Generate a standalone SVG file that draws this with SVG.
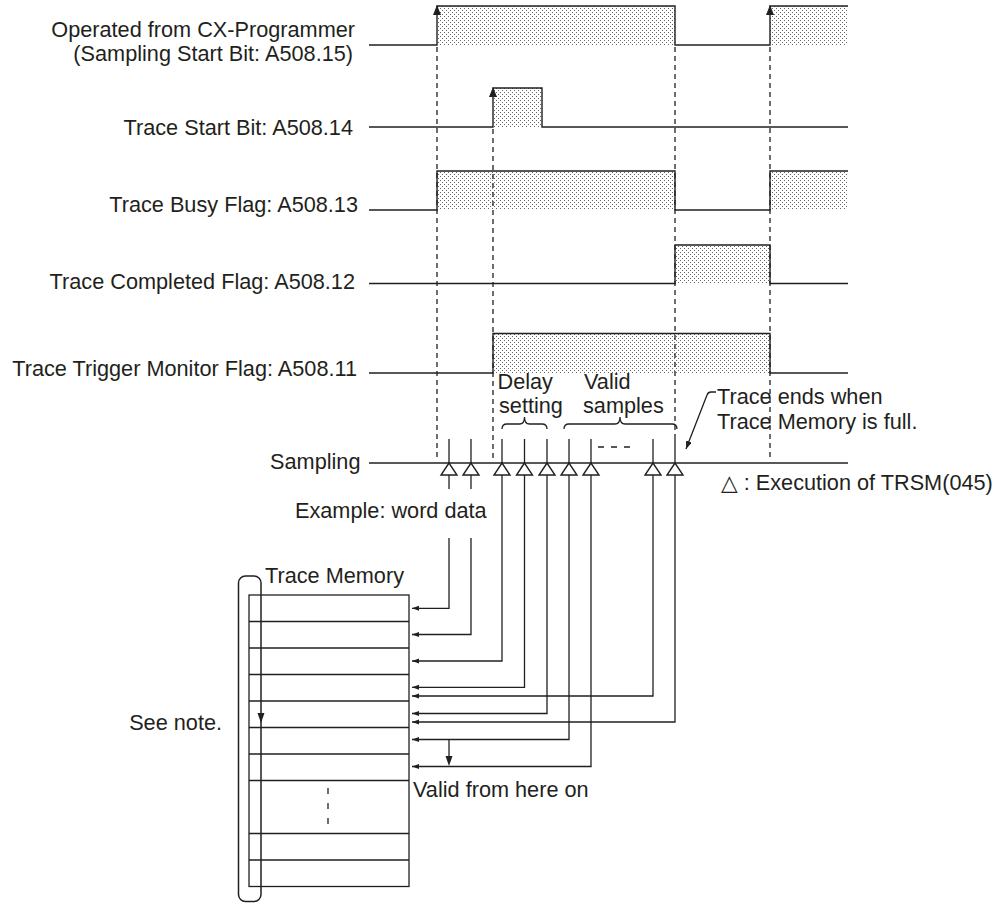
<svg xmlns="http://www.w3.org/2000/svg" width="1003" height="903" viewBox="0 0 1003 903">
<style>
text{font-family:"Liberation Sans",Arial,"DejaVu Sans",sans-serif;font-size:21.7px;fill:#231f20}
.e{text-anchor:end}
.w{fill:none;stroke:#231f20;stroke-width:1.4}
.d{fill:none;stroke:#231f20;stroke-width:1.3;stroke-dasharray:5 4}
.c{fill:none;stroke:#231f20;stroke-width:1.3}
.ca{fill:none;stroke:#231f20;stroke-width:1.3;marker-end:url(#ah)}
.f{fill:url(#dots);stroke:none}
.tri{fill:#fff;stroke:#231f20;stroke-width:1.4}
.hd{fill:#231f20}
</style>
<defs>
<pattern id="dots" width="4" height="4" patternUnits="userSpaceOnUse">
<rect width="4" height="4" fill="#fff"/>
<rect x="0" y="0" width="1" height="1" fill="#666"/>
<rect x="2" y="2" width="1" height="1" fill="#666"/>
</pattern>
<marker id="ah" markerUnits="userSpaceOnUse" markerWidth="8" markerHeight="6" refX="7" refY="2.5" orient="auto">
<path d="M0,0 L7,2.5 L0,5 z" fill="#231f20"/>
</marker>
<marker id="ah2" markerUnits="userSpaceOnUse" markerWidth="10" markerHeight="8" refX="8" refY="3" orient="auto">
<path d="M0,0 L8,3 L0,6 z" fill="#231f20"/>
</marker>
</defs>
<rect width="1003" height="903" fill="#fff"/>

<g id="signal-cx">
<text class="e" x="355" y="37">Operated from CX-Programmer</text>
<text class="e" x="353" y="61.3">(Sampling Start Bit: A508.15)</text>
<rect class="f" x="437" y="6" width="238" height="39"/>
<rect class="f" x="770" y="6" width="78" height="39"/>
<path class="w" d="M369,45 H437 V6 H675 V45 H770 V6 H848"/>
<polygon class="hd" points="437,5 433,15 441,15"/>
<polygon class="hd" points="770,5 766,15 774,15"/>
</g>

<g id="signal-start">
<text class="e" x="353" y="135">Trace Start Bit: A508.14</text>
<rect class="f" x="493" y="88" width="49" height="39"/>
<path class="w" d="M369,127 H493 V88 H542 V127 H848"/>
<polygon class="hd" points="493,87 489,97 497,97"/>
</g>

<g id="signal-busy">
<text class="e" x="358" y="211.5">Trace Busy Flag: A508.13</text>
<rect class="f" x="437" y="171" width="238" height="39"/>
<rect class="f" x="770" y="171" width="78" height="39"/>
<path class="w" d="M369,210 H437 V171 H675 V210 H770 V171 H848"/>
</g>

<g id="signal-completed">
<text class="e" x="355" y="288.5">Trace Completed Flag: A508.12</text>
<rect class="f" x="675" y="245" width="95" height="38.5"/>
<path class="w" d="M369,283.5 H675 V245 H770 V283.5 H848"/>
</g>

<g id="signal-trigger">
<text class="e" x="357" y="375.5">Trace Trigger Monitor Flag: A508.11</text>
<rect class="f" x="493" y="333.5" width="277" height="39.5"/>
<path class="w" d="M369,373 H493 V333.5 H770 V373 H848"/>
</g>

<g id="timing-guides">
<path class="d" d="M437,47 V460 M493,129 V460 M675,47 V439 M770,47 V460"/>
</g>

<g id="sampling">
<text class="e" x="360.5" y="468.5">Sampling</text>
<path class="w" d="M369,463 H848"/>
<path class="c" d="M449,439 V463 M471,439 V463 M502,439 V463 M524.5,439 V463 M547,439 V463 M569,439 V463 M591,439 V463 M653,439 V463 M675,439 V463"/>
<path class="c" d="M598,447 H630" stroke-dasharray="6 7"/>
<polygon class="tri" points="449,463 441,475 457,475"/>
<polygon class="tri" points="471,463 463,475 479,475"/>
<polygon class="tri" points="502,463 494,475 510,475"/>
<polygon class="tri" points="524.5,463 516.5,475 532.5,475"/>
<polygon class="tri" points="547,463 539,475 555,475"/>
<polygon class="tri" points="569,463 561,475 577,475"/>
<polygon class="tri" points="591,463 583,475 599,475"/>
<polygon class="tri" points="653,463 645,475 661,475"/>
<polygon class="tri" points="675,463 667,475 683,475"/>
</g>

<g id="brace-delay">
<path class="c" d="M502,429 Q502,424 507,424 L519.5,424 Q524.5,424 524.5,417 Q524.5,424 529.5,424 L542,424 Q547,424 547,429"/>
<text x="497.5" y="389">Delay</text>
<text x="499" y="413.3">setting</text>
</g>

<g id="brace-valid">
<path class="c" d="M564,429 Q564,424 569,424 L615,424 Q620,424 620,417 Q620,424 625,424 L672,424 Q677,424 677,429"/>
<text x="584" y="389">Valid</text>
<text x="583" y="413.3">samples</text>
</g>

<g id="note-trace-ends">
<text x="717" y="404.3">Trace ends when</text>
<text x="717" y="428.6">Trace Memory is full.</text>
<path class="c" d="M716,392 H711 Q708,392 707,395 L686,449" marker-end="url(#ah2)"/>
</g>

<g id="legend">
<text x="721" y="490">△ : Execution of TRSM(045)</text>
</g>

<g id="example-label">
<text x="295" y="518">Example: word data</text>
</g>

<g id="trace-memory">
<text x="265" y="583">Trace Memory</text>
<rect x="249" y="595" width="160" height="291.5" fill="none" stroke="#231f20" stroke-width="1.3"/>
<path class="c" d="M249,621.5 H409 M249,648 H409 M249,674.5 H409 M249,701 H409 M249,727.5 H409 M249,754 H409 M249,780.5 H409 M249,833.5 H409 M249,860 H409"/>
<path class="c" d="M328,788 V825" stroke-dasharray="6 9"/>
</g>

<g id="wrap-loop">
<rect x="238.5" y="576" width="22.5" height="325.5" rx="7" fill="none" stroke="#231f20" stroke-width="1.5"/>
<polygon class="hd" points="261,723 257.5,713 264.5,713"/>
<text class="e" x="222" y="730">See note.</text>
</g>

<g id="connectors">
<path class="c" d="M449,475 V489 M471,475 V489"/>
<path class="ca" d="M449,538 V608.3 H412"/>
<path class="ca" d="M471,538 V634.5 H412"/>
<path class="ca" d="M502,475 V661 H412"/>
<path class="ca" d="M524.5,475 V687.3 H412"/>
<path class="ca" d="M653,475 V696 H412"/>
<path class="ca" d="M547,475 V713.5 H412"/>
<path class="ca" d="M675,475 V722 H412"/>
<path class="ca" d="M569,475 V739.5 H412"/>
<path class="ca" d="M591,475 V766.5 H412"/>
<path class="c" d="M449,739.5 V758"/>
<polygon class="hd" points="449,766 445.5,756 452.5,756"/>
</g>

<g id="valid-label">
<text x="413" y="797">Valid from here on</text>
</g>
</svg>
